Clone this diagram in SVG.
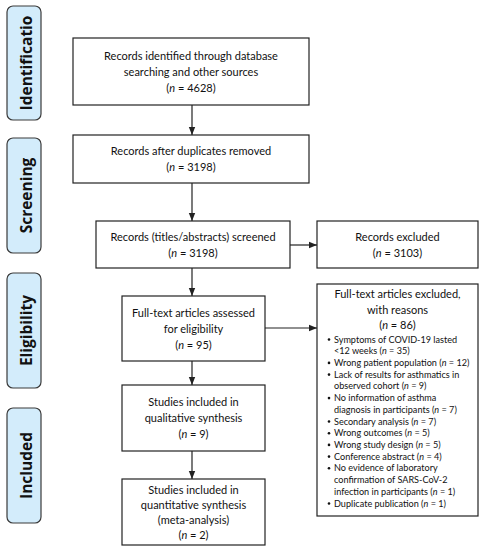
<svg xmlns="http://www.w3.org/2000/svg" width="482" height="550" viewBox="0 0 482 550">
<style>
.stage{fill:#d3ecfb;stroke:#3a3a3a;stroke-width:1.2}
.stxt{font-family:"Open Sans","DejaVu Sans",sans-serif;font-weight:bold;font-size:15.5px;fill:#111;text-anchor:middle}
.box{fill:#fff;stroke:#222;stroke-width:1.2}
.t{font-family:Lato,"Open Sans",sans-serif;font-size:11px;fill:#111;text-anchor:middle}
.s{font-family:Lato,"Open Sans",sans-serif;font-size:9.1px;fill:#111}
.conn{stroke:#222;stroke-width:1.2;fill:none;marker-end:url(#ah)}
.i{font-style:italic}
</style>
<defs>
<marker id="ah" markerUnits="userSpaceOnUse" markerWidth="8" markerHeight="8" viewBox="0 0 8 8" refX="8" refY="4" orient="auto">
<path d="M0,0.8 L8,4 L0,7.2 Z" fill="#222"/>
</marker>
</defs>
<rect width="482" height="550" fill="#fff"/>

<g id="stage-identification">
<rect class="stage" x="7" y="6" width="34" height="114" rx="6"/>
<text class="stxt" transform="translate(32,63) rotate(-90)">Identificatio</text>
</g>
<g id="stage-screening">
<rect class="stage" x="7" y="138" width="34" height="115" rx="6"/>
<text class="stxt" transform="translate(32,195.5) rotate(-90)">Screening</text>
</g>
<g id="stage-eligibility">
<rect class="stage" x="7" y="273" width="34" height="115" rx="6"/>
<text class="stxt" transform="translate(32,330.5) rotate(-90)">Eligibility</text>
</g>
<g id="stage-included">
<rect class="stage" x="7" y="408" width="34" height="115" rx="6"/>
<text class="stxt" transform="translate(32,465.5) rotate(-90)">Included</text>
</g>

<g id="connectors">
<line class="conn" x1="192" y1="105" x2="192" y2="135"/>
<line class="conn" x1="192" y1="183" x2="192" y2="221"/>
<line class="conn" x1="290" y1="245" x2="317" y2="245"/>
<line class="conn" x1="192" y1="268" x2="192" y2="296"/>
<line class="conn" x1="265" y1="328" x2="317" y2="328"/>
<line class="conn" x1="192" y1="361" x2="192" y2="385"/>
<line class="conn" x1="192" y1="451" x2="192" y2="479"/>
</g>

<g id="identified">
<rect class="box" x="73" y="38" width="236" height="67"/>
<text class="t" x="191" y="60">Records identified through database</text>
<text class="t" x="191" y="76">searching and other sources</text>
<text class="t" x="191" y="92">(<tspan class="i">n</tspan> = 4628)</text>
</g>
<g id="deduplicated">
<rect class="box" x="73" y="135" width="236" height="48"/>
<text class="t" x="191" y="155">Records after duplicates removed</text>
<text class="t" x="191" y="171">(<tspan class="i">n</tspan> = 3198)</text>
</g>
<g id="screened">
<rect class="box" x="96" y="221" width="194" height="47"/>
<text class="t" x="193" y="241">Records (titles/abstracts) screened</text>
<text class="t" x="193" y="257">(<tspan class="i">n</tspan> = 3198)</text>
</g>
<g id="excluded">
<rect class="box" x="317" y="221" width="161" height="47"/>
<text class="t" x="397.5" y="241">Records excluded</text>
<text class="t" x="397.5" y="257">(<tspan class="i">n</tspan> = 3103)</text>
</g>
<g id="fulltext">
<rect class="box" x="122" y="296" width="143" height="65"/>
<text class="t" x="193.5" y="317">Full-text articles assessed</text>
<text class="t" x="193.5" y="333">for eligibility</text>
<text class="t" x="193.5" y="349">(<tspan class="i">n</tspan> = 95)</text>
</g>
<g id="fulltext-excluded">
<rect class="box" x="317" y="284" width="161" height="232"/>
<text class="t" x="397.5" y="298">Full-text articles excluded,</text>
<text class="t" x="397.5" y="313.5">with reasons</text>
<text class="t" x="397.5" y="329">(<tspan class="i">n</tspan> = 86)</text>
<g fill="#111">
<circle cx="329" cy="339.5" r="1.3"/>
<circle cx="329" cy="362.9" r="1.3"/>
<circle cx="329" cy="374.6" r="1.3"/>
<circle cx="329" cy="398.1" r="1.3"/>
<circle cx="329" cy="421.5" r="1.3"/>
<circle cx="329" cy="433.2" r="1.3"/>
<circle cx="329" cy="444.9" r="1.3"/>
<circle cx="329" cy="456.6" r="1.3"/>
<circle cx="329" cy="468.3" r="1.3"/>
<circle cx="329" cy="503.5" r="1.3"/>
</g>
<text class="s" x="334" y="342.5">Symptoms of COVID-19 lasted</text>
<text class="s" x="334" y="354.2">&lt;12 weeks (<tspan class="i">n</tspan> = 35)</text>
<text class="s" x="334" y="365.9">Wrong patient population (<tspan class="i">n</tspan> = 12)</text>
<text class="s" x="334" y="377.6">Lack of results for asthmatics in</text>
<text class="s" x="334" y="389.4">observed cohort (<tspan class="i">n</tspan> = 9)</text>
<text class="s" x="334" y="401.1">No information of asthma</text>
<text class="s" x="334" y="412.8">diagnosis in participants (<tspan class="i">n</tspan> = 7)</text>
<text class="s" x="334" y="424.5">Secondary analysis (<tspan class="i">n</tspan> = 7)</text>
<text class="s" x="334" y="436.2">Wrong outcomes (<tspan class="i">n</tspan> = 5)</text>
<text class="s" x="334" y="447.9">Wrong study design (<tspan class="i">n</tspan> = 5)</text>
<text class="s" x="334" y="459.6">Conference abstract (<tspan class="i">n</tspan> = 4)</text>
<text class="s" x="334" y="471.3">No evidence of laboratory</text>
<text class="s" x="334" y="483.1">confirmation of SARS-CoV-2</text>
<text class="s" x="334" y="494.8">infection in participants (<tspan class="i">n</tspan> = 1)</text>
<text class="s" x="334" y="506.5">Duplicate publication (<tspan class="i">n</tspan> = 1)</text>
</g>
<g id="qualitative">
<rect class="box" x="122" y="385" width="143" height="66"/>
<text class="t" x="193.5" y="406">Studies included in</text>
<text class="t" x="193.5" y="422">qualitative synthesis</text>
<text class="t" x="193.5" y="438">(<tspan class="i">n</tspan> = 9)</text>
</g>
<g id="quantitative">
<rect class="box" x="122" y="479" width="143" height="66"/>
<text class="t" x="193.5" y="494">Studies included in</text>
<text class="t" x="193.5" y="509">quantitative synthesis</text>
<text class="t" x="193.5" y="524">(meta-analysis)</text>
<text class="t" x="193.5" y="539">(<tspan class="i">n</tspan> = 2)</text>
</g>
</svg>
